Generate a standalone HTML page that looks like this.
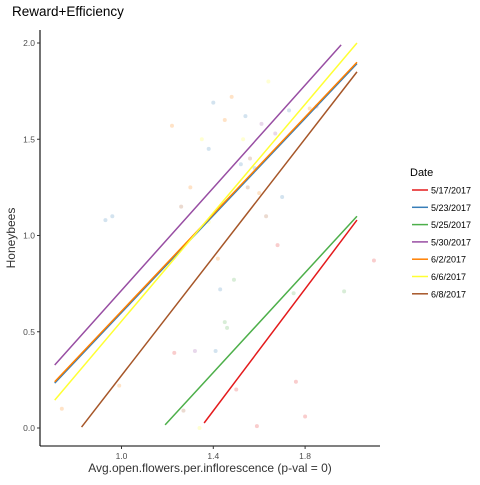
<!DOCTYPE html>
<html><head><meta charset="utf-8"><style>
body{margin:0;background:#fff;width:480px;height:480px;overflow:hidden;font-family:"Liberation Sans",sans-serif}
svg text{font-family:"Liberation Sans",sans-serif}
</style></head><body>
<svg id="chart" width="480" height="480">
<rect width="480" height="480" fill="#fff"/>
<text x="12" y="16" font-size="13.5" fill="#000">Reward+Efficiency</text>
<g id="pts"></g><g id="lines"></g>
<line x1="40" y1="30" x2="40" y2="446" stroke="#000" stroke-width="1.1"/>
<line x1="40" y1="446" x2="380" y2="446" stroke="#000" stroke-width="1.1"/>
<g id="ticks"></g>
<text x="210" y="472" font-size="12" text-anchor="middle" fill="#333">Avg.open.flowers.per.inflorescence (p-val = 0)</text>
<text transform="translate(15,238) rotate(-90)" font-size="12" text-anchor="middle" fill="#333">Honeybees</text>
<text x="410" y="176" font-size="11" fill="#000">Date</text>
<g id="legend"></g>
</svg>
<script>
const dates=["5/17/2017","5/23/2017","5/25/2017","5/30/2017","6/2/2017","6/6/2017","6/8/2017"];
const colors=["#e41a1c","#377eb8","#4daf4a","#984ea3","#ff7f00","#ffff33","#a65628"];
const lineX0=[1.36,0.709,1.19,0.709,0.709,0.709,0.826];
const lineY0=[0.026,0.233,0.016,0.327,0.24,0.145,0.005];
const lineX1=[2.026,2.026,2.026,1.957,2.026,2.026,2.026];
const lineY1=[1.08,1.893,1.10,1.99,1.90,2.0,1.85];
const ptX=[0.74,0.99,0.93,0.96,1.23,1.26,1.22,1.40,1.48,1.54,1.61,1.67,1.73,1.82,1.85,1.43,1.68,1.75,1.97,2.10,1.41,1.45,1.49,1.50,1.80,1.76,1.59,1.32,1.56,1.52,1.53,1.30,1.35,1.38,1.45,1.55,1.60,1.63,1.70,1.42,1.38,1.27,1.46,1.58,1.64,1.34];
const ptY=[0.10,0.22,1.08,1.10,0.39,1.15,1.57,1.69,1.72,1.62,1.58,1.53,1.65,1.66,1.67,0.72,0.95,0.70,0.71,0.87,0.40,0.55,0.77,0.20,0.06,0.24,0.01,0.40,1.40,1.37,1.50,1.25,1.50,1.45,1.60,1.25,1.22,1.10,1.20,0.88,1.07,0.09,0.52,1.35,1.80,0.00];
const ptG=[4,4,1,1,0,6,4,1,4,1,3,3,1,4,3,1,0,2,2,0,1,2,2,0,0,0,0,3,6,1,5,4,5,1,4,6,4,6,1,4,5,6,2,1,5,5];
const xTicks=[1.0,1.4,1.8], xTickLabels=["1.0","1.4","1.8"];
const yTicks=[0,0.5,1,1.5,2], yTickLabels=["0.0","0.5","1.0","1.5","2.0"];
const NS="http://www.w3.org/2000/svg";
const sx=v=>121.5+(v-1)*229.5, sy=v=>428-v*192.5;
function mk(t,a,p){const e=document.createElementNS(NS,t);for(const k in a)e.setAttribute(k,a[k]);p.appendChild(e);return e;}
const pts=document.getElementById('pts');
ptX.forEach((x,i)=>{const c=mk('circle',{cx:sx(x),cy:sy(ptY[i]),r:2,fill:colors[ptG[i]],'fill-opacity':0.22},pts);

});
const lines=document.getElementById('lines');
dates.forEach((d,i)=>{const l=mk('line',{x1:sx(lineX0[i]),y1:sy(lineY0[i]),x2:sx(lineX1[i]),y2:sy(lineY1[i]),stroke:colors[i],'stroke-width':1.5},lines);

});
const tk=document.getElementById('ticks');
xTicks.forEach((v,i)=>{mk('line',{x1:sx(v),x2:sx(v),y1:446,y2:449,stroke:'#333'},tk);
const t=mk('text',{x:sx(v),y:459,'font-size':8.5,'text-anchor':'middle',fill:'#4d4d4d'},tk);t.textContent=xTickLabels[i];

});
yTicks.forEach((v,i)=>{mk('line',{x1:37,x2:40,y1:sy(v),y2:sy(v),stroke:'#333'},tk);
const t=mk('text',{x:35,y:sy(v)+3,'font-size':8.5,'text-anchor':'end',fill:'#4d4d4d'},tk);t.textContent=yTickLabels[i];

});
const lg=document.getElementById('legend');
dates.forEach((d,i)=>{const y=190+i*17.3;
const g=mk('g',{},lg);


mk('line',{x1:412,x2:428,y1:y,y2:y,stroke:colors[i],'stroke-width':1.5},g);
const t=mk('text',{x:431,y:y+3.5,'font-size':9,fill:'#000'},g);t.textContent=d;});
</script>
</body></html>
